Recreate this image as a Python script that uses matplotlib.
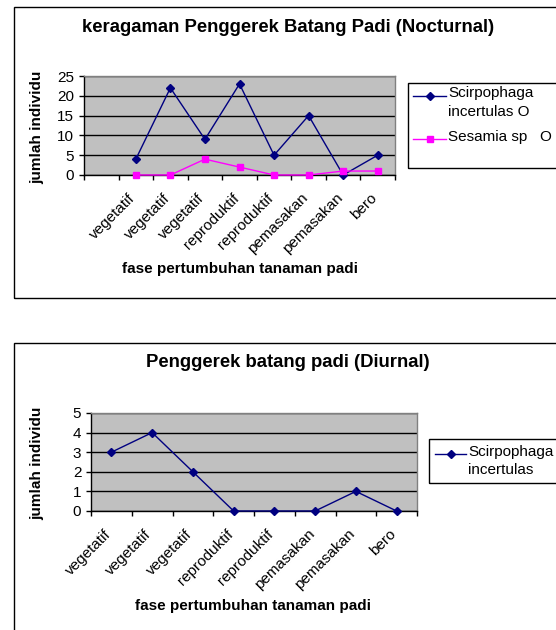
import numpy as np
import matplotlib
matplotlib.use("Agg")
import matplotlib.pyplot as plt
from matplotlib.patches import Rectangle
from matplotlib.lines import Line2D
from matplotlib.transforms import ScaledTranslation

plt.rcParams['font.family'] = ['Liberation Sans', 'DejaVu Sans']

W, H = 556, 630

# nocturnal catch (first category slot is left empty)
noct_phases = ["", "vegetatif", "vegetatif", "vegetatif", "reproduktif",
               "reproduktif", "pemasakan", "pemasakan", "bero"]
noct_scirpophaga = [np.nan, 4, 22, 9, 23, 5, 15, 0, 5]
noct_sesamia = [np.nan, 0, 0, 4, 2, 0, 0, 1, 1]

# diurnal catch
diur_phases = ["vegetatif", "vegetatif", "vegetatif", "reproduktif",
               "reproduktif", "pemasakan", "pemasakan", "bero"]
diur_scirpophaga = [3, 4, 2, 0, 0, 0, 1, 0]

NAVY = "#000080"
PINK = "#FF00FF"
DIAMOND = dict(marker="D", ms=3.8)
SQUARE = dict(marker="s", ms=5)


def px_axes(fig, x0, y0, x1, y1):
    return fig.add_axes([x0 / W, 1 - y1 / H, (x1 - x0) / W, (y1 - y0) / H])


def px_box(fig, x0, y0, x1, y1, lw=1.0):
    fig.add_artist(Rectangle((x0 / W, 1 - y1 / H), (x1 - x0) / W, (y1 - y0) / H,
                             transform=fig.transFigure, fill=False,
                             ec="black", lw=lw))


def px_text(fig, x, y, s, **kw):
    fig.text(x / W, 1 - y / H, s, **kw)


def legend_box(fig, x0, y0, x1, y1, hx0, hx1, rows):
    """rows: (text_y, label, handle) where handle is (y, color, marker) or None"""
    px_box(fig, x0, y0, x1, y1)
    for ty, label, handle in rows:
        if handle is not None:
            hy, color, mk = handle
            fig.add_artist(Line2D([hx0 / W, hx1 / W], [1 - hy / H, 1 - hy / H],
                                  transform=fig.transFigure, color=color, lw=1))
            fig.add_artist(Line2D([(hx0 + hx1) / 2 / W], [1 - hy / H],
                                  transform=fig.transFigure, color=color,
                                  mec=color, mfc=color, **mk))
        px_text(fig, hx1 + 2, ty, label, fontsize=11, va="center")


def line_chart(ax, phases, series, ymax, ystep):
    n = len(phases)
    x = np.arange(n)
    ax.set_facecolor("#C0C0C0")
    for vals, color, mk in series:
        ax.plot(x, vals, color=color, lw=1, mec=color, mfc=color,
                clip_on=False, zorder=3, **mk)
    ax.set_xlim(-0.5, n - 0.5)
    ax.set_ylim(0, ymax)
    ax.set_yticks(np.arange(0, ymax + 1, ystep))
    ax.yaxis.grid(True, color="black", lw=1)
    ax.set_axisbelow(True)
    ax.tick_params(axis="y", length=3.5, width=1, labelsize=11, pad=3.5)
    # category names: baseline end sits a little left of the slot centre
    ax.set_xticks(x)
    ax.set_xticklabels(phases, rotation=45, ha="right", va="baseline",
                       rotation_mode="anchor", fontsize=11)
    shift = ScaledTranslation(-5 / 100, 0, ax.figure.dpi_scale_trans)
    for lbl in ax.get_xticklabels():
        lbl.set_transform(lbl.get_transform() + shift)
    ax.set_xticks(np.arange(n + 1) - 0.5, minor=True)
    ax.tick_params(axis="x", which="major", length=0, pad=17)
    ax.tick_params(axis="x", which="minor", length=3.5, width=1)
    ax.spines["top"].set_color("#808080")
    ax.spines["right"].set_color("#808080")
    ax.spines["left"].set_color("black")
    ax.spines["bottom"].set_color("black")
    for sp in ax.spines.values():
        sp.set_linewidth(1)


fig = plt.figure(figsize=(W / 100, H / 100), dpi=100)

# nocturnal panel
px_box(fig, 14, 7, 620, 298)
px_text(fig, 288, 27, "keragaman Penggerek Batang Padi (Nocturnal)",
        fontsize=13.3, fontweight="bold", ha="center", va="center")
ax1 = px_axes(fig, 84, 76, 395, 175)
line_chart(ax1, noct_phases,
           [(noct_scirpophaga, NAVY, DIAMOND),
            (noct_sesamia, PINK, SQUARE)], 25, 5)
px_text(fig, 37, 127, "jumlah individu", fontsize=11, fontweight="bold",
        rotation=90, ha="center", va="center")
px_text(fig, 240, 269, "fase pertumbuhan tanaman padi", fontsize=11,
        fontweight="bold", ha="center", va="center")
legend_box(fig, 408, 83, 620, 168, 413, 446,
           [(93, "Scirpophaga", (96, NAVY, DIAMOND)),
            (112, "incertulas O", None),
            (137, "Sesamia sp   O", (139, PINK, SQUARE))])

# diurnal panel
px_box(fig, 14, 343, 620, 700)
px_text(fig, 288, 363, "Penggerek batang padi (Diurnal)",
        fontsize=13.3, fontweight="bold", ha="center", va="center")
ax2 = px_axes(fig, 91, 413, 417, 511)
line_chart(ax2, diur_phases, [(diur_scirpophaga, NAVY, DIAMOND)], 5, 1)
px_text(fig, 37, 463, "jumlah individu", fontsize=11, fontweight="bold",
        rotation=90, ha="center", va="center")
px_text(fig, 253, 606, "fase pertumbuhan tanaman padi", fontsize=11,
        fontweight="bold", ha="center", va="center")
legend_box(fig, 429, 439, 620, 483, 435, 466,
           [(452, "Scirpophaga", (454, NAVY, DIAMOND)),
            (470, "incertulas", None)])

fig.savefig("out.png", dpi=100)
